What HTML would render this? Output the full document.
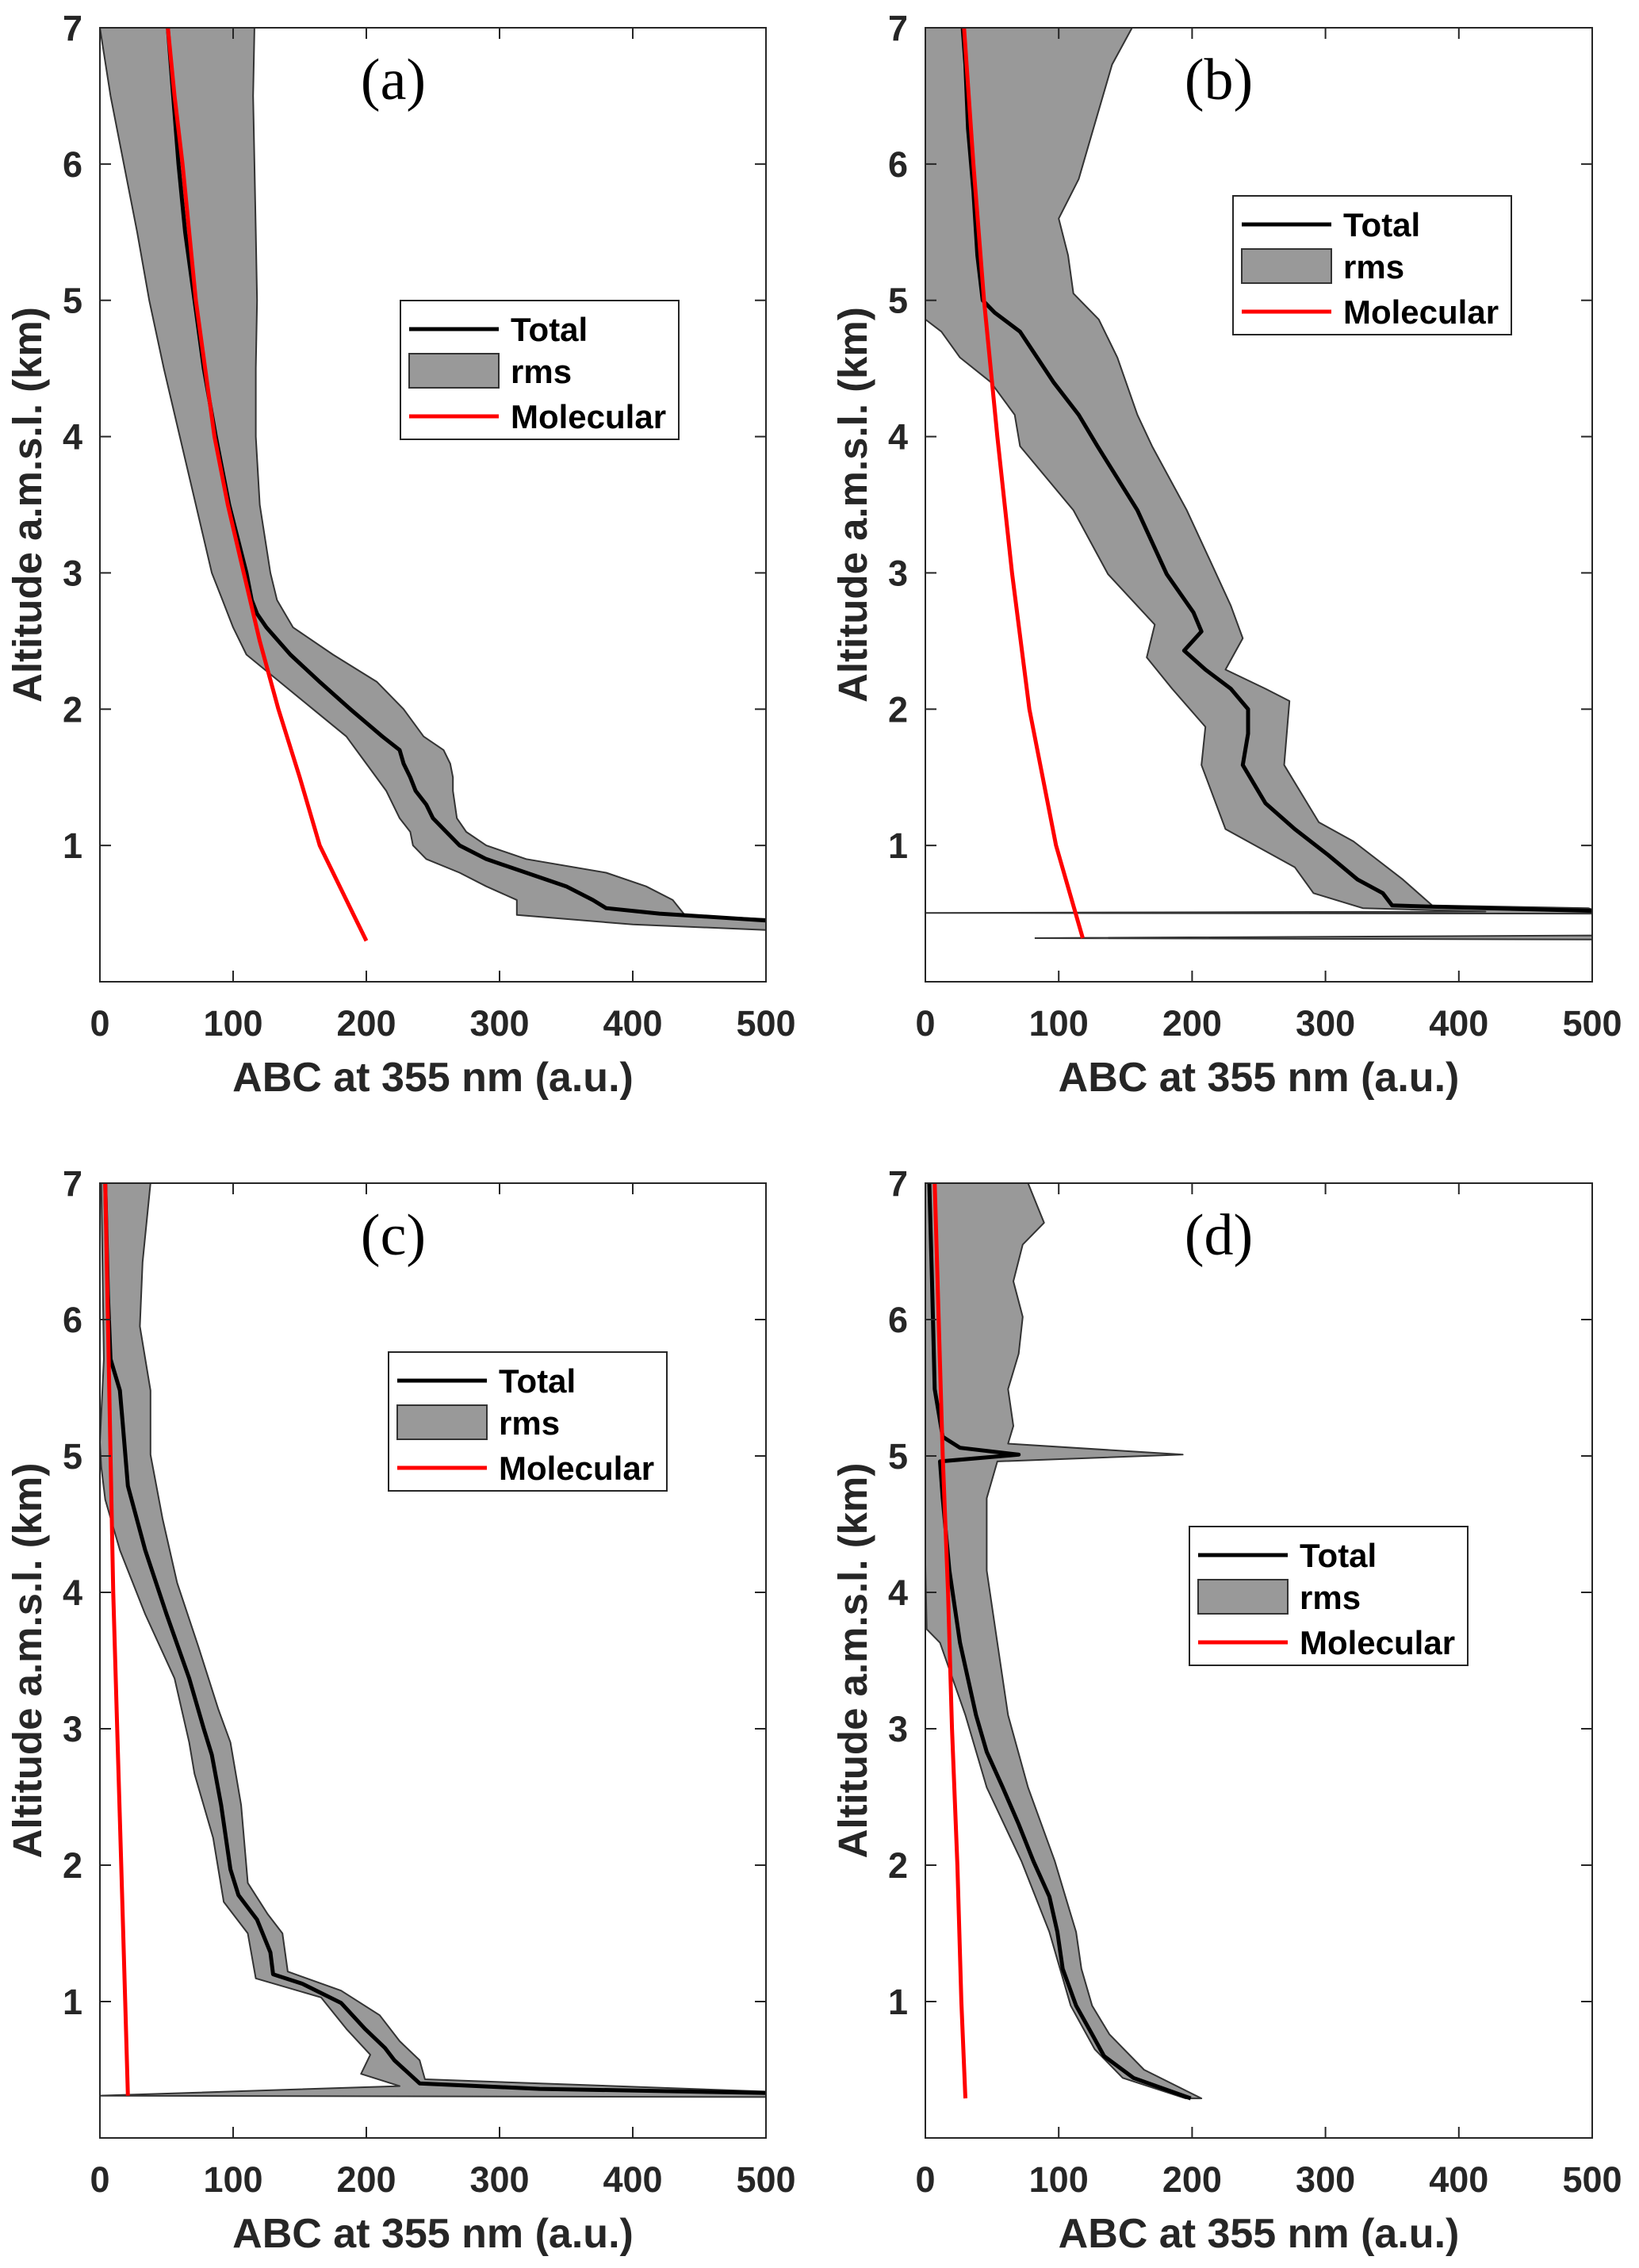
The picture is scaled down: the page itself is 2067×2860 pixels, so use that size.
<!DOCTYPE html>
<html><head><meta charset="utf-8">
<style>
html,body{margin:0;padding:0;background:#fff;}
svg{display:block;}
text{font-family:"Liberation Sans",Arial,sans-serif;font-weight:bold;fill:#262626;}
</style></head>
<body>
<svg id="fig" width="2067" height="2860" viewBox="0 0 2067 2860" xmlns="http://www.w3.org/2000/svg"></svg>
<script>
// ---- shared ticks ----
const xTicks = [0,100,200,300,400,500];
const yTicks = [1,2,3,4,5,6,7];
// ---- panel (a) ----
const aTotalAlt = [0.45,0.5,0.54,0.6,0.7,0.8,0.9,1.0,1.1,1.2,1.3,1.4,1.5,1.6,1.7,1.8,1.9,2.0,2.2,2.4,2.6,2.7,2.8,3.0,3.5,4.0,4.5,5.0,5.5,6.0,6.5,7.0];
const aTotalVal = [500,420,380,370,350,320,290,270,260,250,245,237,233,228,225,212,200,188,165,143,125,118,114,110,97,87,78,71,64,59,55,51];
const aLowAlt = [0.38,0.42,0.49,0.6,0.7,0.8,0.9,1.0,1.1,1.2,1.4,1.6,1.8,2.0,2.2,2.4,2.6,2.8,3.0,3.5,4.0,4.5,5.0,5.5,6.0,6.5,7.0];
const aLowVal = [500,400,313,313,290,270,245,235,233,225,215,200,185,160,135,110,100,92,84,72,60,48,37,28,18,8,0];
const aUpAlt = [0.46,0.49,0.6,0.7,0.8,0.9,1.0,1.1,1.2,1.4,1.5,1.6,1.7,1.8,2.0,2.2,2.4,2.6,2.8,3.0,3.5,4.0,4.5,5.0,5.5,6.0,6.5,7.0];
const aUpVal = [500,439,430,410,380,320,290,275,268,265,265,263,258,243,228,208,175,145,133,128,120,117,117,118,117,116,115,116];
const aMolAlt = [0.3,0.5,1,1.5,2,2.5,3,3.5,4,4.5,5,5.5,6,6.5,7];
const aMolVal = [200,190,165,150,134,120,108,96,86,79,72,67,62,56,51];
// ---- panel (b) ----
const bTotalAlt = [0.52,0.54,0.56,0.65,0.75,0.93,1.12,1.31,1.59,1.82,2.0,2.15,2.29,2.43,2.57,2.71,2.99,3.46,3.93,4.16,4.4,4.77,4.91,5.0,5.33,5.8,6.26,6.73,7.0];
const bTotalVal = [500,420,350,343,324,302,277,255,238,242,242,229,210,194,207,201,181,159,129,115,96,71,52,43,39,36,32,30,28];
const bLowAlt = [0.5,0.505,0.515,0.54,0.65,0.84,1.12,1.59,1.87,2.15,2.38,2.62,2.99,3.46,3.93,4.16,4.4,4.58,4.77,4.86,7.0];
const bLowVal = [500,0,420,328,291,277,225,207,210,185,166,172,137,111,71,67,49,26,12,0,0];
const bUpAlt = [0.53,0.54,0.56,0.75,1.03,1.17,1.59,2.06,2.15,2.29,2.52,2.76,3.08,3.46,3.93,4.16,4.58,4.86,5.05,5.33,5.6,5.89,6.26,6.73,7.0];
const bUpVal = [500,497,380,358,321,295,269,273,255,225,238,229,214,196,170,159,144,130,111,107,100,115,126,140,155];
const bMolAlt = [0.32,1,2,3,4,5,6,7];
const bMolVal = [118,98,78,65,54,44,36,29];
// artifact sliver near ground (b)
const bArtAlt = [0.31,0.32,0.34];
const bArtVal = [500,82,500];
// ---- panel (c) ----
const cTotalAlt = [0.33,0.36,0.40,0.57,0.66,0.80,0.99,1.13,1.2,1.36,1.6,1.78,1.97,2.44,2.81,3.0,3.37,3.84,4.31,4.78,5.25,5.48,5.71,6.18,7.0];
const cTotalVal = [500,330,240,221,214,199,181,152,130,128,118,104,98,91,84,78,67,50,34,21,17,15,8,6,4];
const cLowAlt = [0.30,0.31,0.38,0.47,0.61,0.8,1.03,1.17,1.5,1.73,2.2,2.67,2.9,3.37,3.84,4.31,4.68,4.92,5.1,5.71,7.0];
const cLowVal = [500,0,225,196,203,185,166,117,111,93,85,71,67,56,34,15,4,1,0,3,1];
const cUpAlt = [0.34,0.43,0.57,0.71,0.9,1.08,1.22,1.5,1.64,1.87,2.44,2.9,3.14,3.6,4.07,4.54,5.01,5.48,5.95,6.42,7.0];
const cUpVal = [500,244,240,225,210,181,141,137,126,111,106,98,89,74,58,47,38,38,30,32,38];
const cMolAlt = [0.31,1,2,3,4,5,6,7];
const cMolVal = [21,19,16,13,10,8,6,4];
// ---- panel (d) ----
const dTotalAlt = [0.29,0.44,0.6,0.76,0.97,1.24,1.51,1.77,2.03,2.3,2.57,2.83,3.1,3.63,4.16,4.69,4.96,5.01,5.06,5.14,5.49,6.28,7.0];
const dTotalVal = [199,156,134,125,113,103,99,93,81,70,58,46,38,26,18,13,11,70,26,13,7,5,3];
const dLowAlt = [0.29,0.44,0.65,0.97,1.51,2.03,2.57,3.1,3.63,3.73,4.2,7.0];
const dLowVal = [195,148,127,109,93,72,46,30,11,1,0,0];
const dUpAlt = [0.29,0.5,0.76,0.97,1.24,1.51,1.77,2.03,2.57,3.1,3.63,4.16,4.69,4.96,5.01,5.09,5.22,5.49,5.75,6.02,6.28,6.55,6.71,7.0];
const dUpVal = [207,164,138,125,117,113,105,97,77,62,54,46,46,54,193,62,66,62,70,73,66,73,89,77];
const dMolAlt = [0.29,1,2,3,4,5,6,7];
const dMolVal = [30,27,24,20,17,13,10,7];

const NS = "http://www.w3.org/2000/svg";
const svg = document.getElementById('fig');
function mk(tag, attrs, parent){
  const e = document.createElementNS(NS, tag);
  for (const k in attrs) e.setAttribute(k, attrs[k]);
  (parent||svg).appendChild(e);
  return e;
}

function panel(id, L, T, R, B, label, leg, d){
  const g = mk('g', {});
  
  
  const sx = v => L + (v/500)*(R-L);
  const sy = a => B - (a/7)*(B-T);
  const clipId = 'clip' + id;
  const cp = mk('clipPath', {id: clipId}, g);
  mk('rect', {x:L, y:T, width:R-L, height:B-T}, cp);
  const pg = mk('g', {'clip-path':'url(#'+clipId+')'}, g);
  let pts = [];
  for (let i=0;i<d.upAlt.length;i++) pts.push(sx(d.upVal[i]).toFixed(1)+','+sy(d.upAlt[i]).toFixed(1));
  for (let i=d.lowAlt.length-1;i>=0;i--) pts.push(sx(d.lowVal[i]).toFixed(1)+','+sy(d.lowAlt[i]).toFixed(1));
  const band = mk('polygon', {points: pts.join(' '), fill:'#999999', stroke:'#333', 'stroke-width':2, 'stroke-linejoin':'round'}, pg);
  
  
  if (d.artAlt){
    let ap = [];
    for (let i=0;i<d.artAlt.length;i++) ap.push(sx(d.artVal[i]).toFixed(1)+','+sy(d.artAlt[i]).toFixed(1));
    const art = mk('polygon', {points: ap.join(' '), fill:'#999999', stroke:'#333', 'stroke-width':2}, pg);
    
    
  }
  let tp = [];
  for (let i=0;i<d.totAlt.length;i++) tp.push(sx(d.totVal[i]).toFixed(1)+','+sy(d.totAlt[i]).toFixed(1));
  const tot = mk('polyline', {points: tp.join(' '), fill:'none', stroke:'#000', 'stroke-width':5, 'stroke-linejoin':'round'}, pg);
  
  
  let mp = [];
  for (let i=0;i<d.molAlt.length;i++) mp.push(sx(d.molVal[i]).toFixed(1)+','+sy(d.molAlt[i]).toFixed(1));
  const mol = mk('polyline', {points: mp.join(' '), fill:'none', stroke:'#ff0000', 'stroke-width':5, 'stroke-linejoin':'round'}, pg);
  
  
  const box = mk('rect', {x:L, y:T, width:R-L, height:B-T, fill:'none', stroke:'#262626', 'stroke-width':2}, g);
  
  
  const tl = 14;
  xTicks.forEach(v=>{
    const x = sx(v);
    mk('line', {x1:x, y1:B, x2:x, y2:B-tl, stroke:'#262626', 'stroke-width':2}, g);
    mk('line', {x1:x, y1:T, x2:x, y2:T+tl, stroke:'#262626', 'stroke-width':2}, g);
    const t = mk('text', {x:x, y:B+68, 'font-size':45, 'text-anchor':'middle'}, g);
    t.textContent = v;
    
    
  });
  yTicks.forEach(v=>{
    const y = sy(v);
    mk('line', {x1:L, y1:y, x2:L+tl, y2:y, stroke:'#262626', 'stroke-width':2}, g);
    mk('line', {x1:R, y1:y, x2:R-tl, y2:y, stroke:'#262626', 'stroke-width':2}, g);
    const t = mk('text', {x:L-22, y:y+16, 'font-size':45, 'text-anchor':'end'}, g);
    t.textContent = v;
    
    
  });
  const xl = mk('text', {x:(L+R)/2, y:B+138, 'font-size':52, 'text-anchor':'middle'}, g);
  xl.textContent = 'ABC at 355 nm (a.u.)';
  
  
  const yl = mk('text', {x:0, y:0, 'font-size':51, 'text-anchor':'middle', transform:'translate('+(L-74)+','+((T+B)/2)+') rotate(-90)'}, g);
  yl.textContent = 'Altitude a.m.s.l. (km)';
  
  
  const pl = mk('text', {x:L+370, y:T+90, 'font-size':74, 'text-anchor':'middle', style:'font-family:"Liberation Serif",serif;font-weight:normal;fill:#000'}, g);
  pl.textContent = label;
  
  
  const lg = mk('g', {}, g);
  
  
  const lx = leg[0], ly = leg[1];
  mk('rect', {x:lx, y:ly, width:351, height:175, fill:'#fff', stroke:'#262626', 'stroke-width':2}, lg);
  mk('line', {x1:lx+11, y1:ly+36, x2:lx+124, y2:ly+36, stroke:'#000', 'stroke-width':5}, lg);
  mk('rect', {x:lx+11, y:ly+67, width:113, height:43, fill:'#999999', stroke:'#333', 'stroke-width':2}, lg);
  mk('line', {x1:lx+11, y1:ly+146, x2:lx+124, y2:ly+146, stroke:'#ff0000', 'stroke-width':5}, lg);
  const names = ['Total','rms','Molecular'];
  const ys = [36, 89, 146];
  names.forEach((n,i)=>{
    const t = mk('text', {x:lx+139, y:ly+ys[i]+15, 'font-size':42, style:'fill:#000'}, lg);
    t.textContent = n;
    
    
  });
}

panel('a', 126, 35, 966, 1238, '(a)', [505,379], {totAlt:aTotalAlt,totVal:aTotalVal,lowAlt:aLowAlt,lowVal:aLowVal,upAlt:aUpAlt,upVal:aUpVal,molAlt:aMolAlt,molVal:aMolVal});
panel('b', 1167, 35, 2008, 1238, '(b)', [1555,247], {totAlt:bTotalAlt,totVal:bTotalVal,lowAlt:bLowAlt,lowVal:bLowVal,upAlt:bUpAlt,upVal:bUpVal,molAlt:bMolAlt,molVal:bMolVal,artAlt:bArtAlt,artVal:bArtVal});
panel('c', 126, 1492, 966, 2696, '(c)', [490,1705], {totAlt:cTotalAlt,totVal:cTotalVal,lowAlt:cLowAlt,lowVal:cLowVal,upAlt:cUpAlt,upVal:cUpVal,molAlt:cMolAlt,molVal:cMolVal});
panel('d', 1167, 1492, 2008, 2696, '(d)', [1500,1925], {totAlt:dTotalAlt,totVal:dTotalVal,lowAlt:dLowAlt,lowVal:dLowVal,upAlt:dUpAlt,upVal:dUpVal,molAlt:dMolAlt,molVal:dMolVal});
</script>
</body></html>
